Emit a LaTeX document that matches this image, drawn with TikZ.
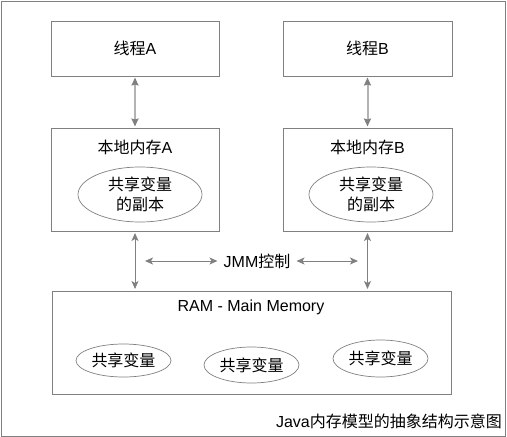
\documentclass[tikz,border=0pt]{standalone}
\usepackage{fontspec}
\setmainfont{Liberation Sans}
\newfontfamily\cjk{Noto Sans CJK SC}
\usetikzlibrary{arrows.meta,shapes.geometric}
\definecolor{linegray}{HTML}{808080}
\definecolor{lightarr}{HTML}{B3B3B3}
\tikzset{
  txt/.style={font=\fontsize{16}{20}\selectfont, text=black},
  box/.style={draw=linegray, line width=1pt, inner sep=0pt, txt},
  oval/.style={ellipse, draw=linegray, line width=0.7pt, inner sep=0pt, txt, align=center},
  uarr/.style={draw=lightarr, line width=2pt, {Stealth[length=8pt,width=7pt,inset=1pt,color=linegray]}-{Stealth[length=8pt,width=7pt,inset=1pt,color=linegray]}},
  larr/.style={draw=linegray, line width=1pt, {Stealth[length=8pt,width=7pt,inset=2pt]}-{Stealth[length=8pt,width=7pt,inset=2pt]}},
}
\begin{document}
\begin{tikzpicture}[x=1pt,y=-1pt]
\useasboundingbox (0,0) rectangle (507,437);
\node[draw=linegray, line width=1pt, minimum width=504pt, minimum height=435pt, inner sep=0pt] (frame) at (253,218.5) {};
% thread boxes
\node[box, minimum width=168pt, minimum height=55pt] (tA) at (135,48.5) {{\cjk 线程}A};
\node[box, minimum width=169pt, minimum height=55pt] (tB) at (367.5,48.5) {{\cjk 线程}B};
% local memory boxes
\node[box, minimum width=168pt, minimum height=103pt] (lA) at (135,179.5) {};
\node[box, minimum width=169pt, minimum height=103pt] (lB) at (367.5,179.5) {};
\node[txt] (lAt) at (135,147) {{\cjk 本地内存}A};
\node[txt] (lBt) at (367.5,147) {{\cjk 本地内存}B};
\node[oval, minimum width=124pt, minimum height=55pt] (eA) at (140,194.5) {\cjk 共享变量\\[0pt]\cjk 的副本};
\node[oval, minimum width=124pt, minimum height=55pt] (eB) at (371,194.5) {\cjk 共享变量\\[0pt]\cjk 的副本};
% main memory
\node[box, minimum width=399pt, minimum height=103pt] (ram) at (251.5,342.5) {};
\node[txt] (ramt) at (251,307) {RAM - Main Memory};
\node[oval, minimum width=95pt, minimum height=33pt] (v1) at (123.5,360.5) {\cjk 共享变量};
\node[oval, minimum width=95pt, minimum height=36pt] (v2) at (251.5,365) {\cjk 共享变量};
\node[oval, minimum width=95pt, minimum height=37pt] (v3) at (380.5,358.5) {\cjk 共享变量};
% JMM
\node[txt, inner sep=6pt] (jmm) at (257,261) {JMM{\cjk 控制}};
\coordinate (jl) at (145,261);
\coordinate (jr) at (358,261);
% caption
\node[txt, anchor=east, inner sep=0pt] (cap) at (502,421) {Java{\cjk 内存模型的抽象结构示意图}};
% connectors
\draw[uarr, shorten <=1pt, shorten >=1pt] (tA.south) -- (lA.north);
\draw[uarr, shorten <=1pt, shorten >=1pt] (tB.south) -- (lB.north);
\draw[larr, shorten <=1.5pt, shorten >=1.5pt] (lA.south) -- (lA.south |- ram.north);
\draw[larr, shorten <=1.5pt, shorten >=1.5pt] (lB.south) -- (lB.south |- ram.north);
\draw[larr] (jl) -- (jmm.west);
\draw[larr] (jmm.east) -- (jr);
\end{tikzpicture}
\end{document}
